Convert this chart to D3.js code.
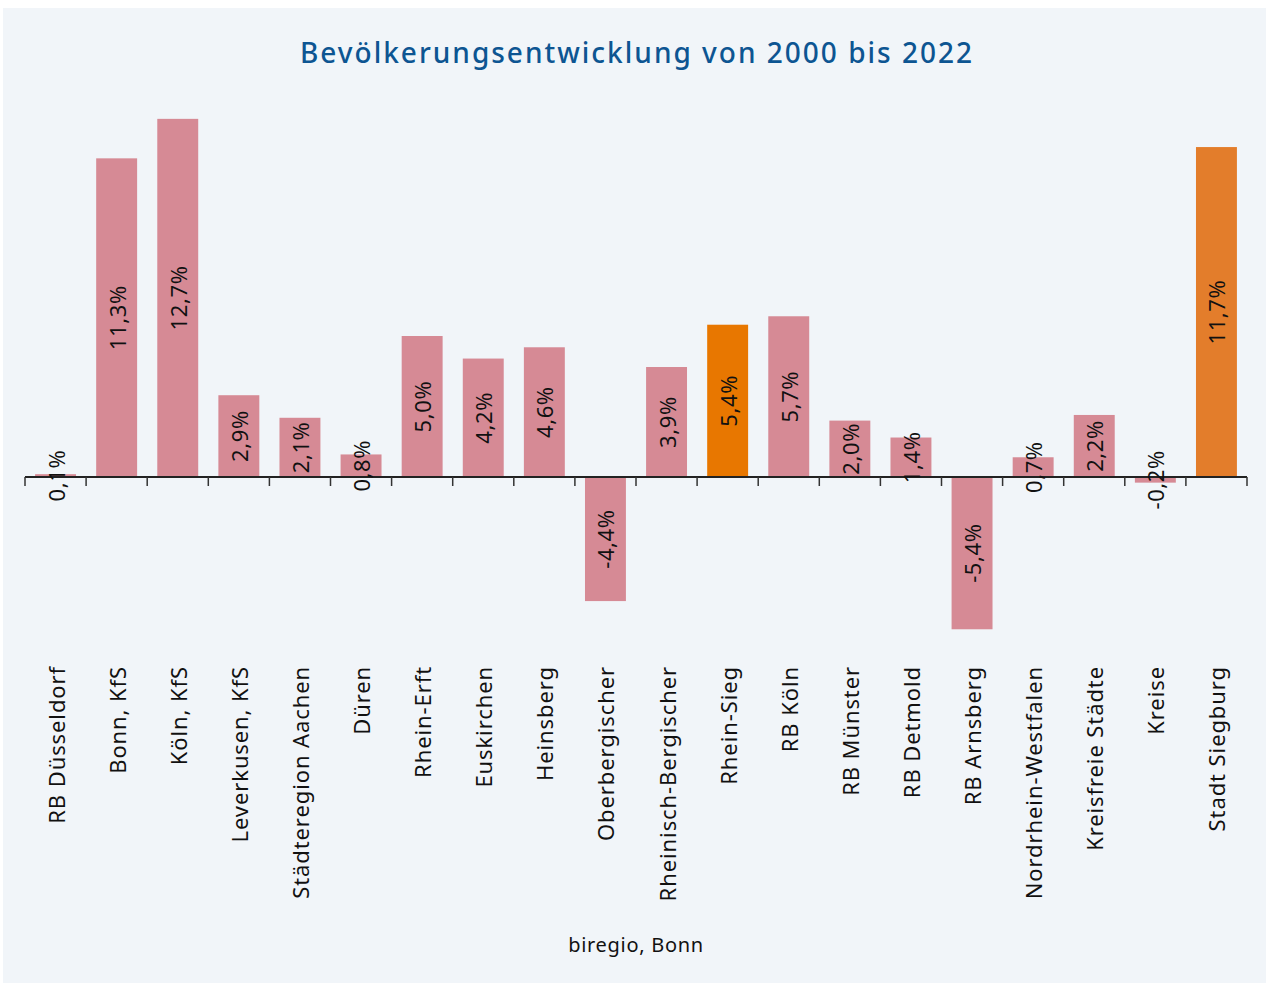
<!DOCTYPE html>
<html>
<head>
<meta charset="utf-8">
<script src="https://cdn.jsdelivr.net/npm/d3@7"></script>
<style>
  html, body { margin: 0; padding: 0; background: #ffffff; }
  svg { display: block; }
</style>
</head>
<body>
<svg id="chart" width="1268" height="985"></svg>
<script>
// Regions and population change 2000–2022 in percent
const regions = [
  "RB Düsseldorf", "Bonn, KfS", "Köln, KfS", "Leverkusen, KfS", "Städteregion Aachen",
  "Düren", "Rhein-Erft", "Euskirchen", "Heinsberg", "Oberbergischer",
  "Rheinisch-Bergischer", "Rhein-Sieg", "RB Köln", "RB Münster", "RB Detmold",
  "RB Arnsberg", "Nordrhein-Westfalen", "Kreisfreie Städte", "Kreise", "Stadt Siegburg"
];
const changePct = [
  0.1, 11.3, 12.7, 2.9, 2.1,
  0.8, 5.0, 4.2, 4.6, -4.4,
  3.9, 5.4, 5.7, 2.0, 1.4,
  -5.4, 0.7, 2.2, -0.2, 11.7
];
const highlightRegions = ["Rhein-Sieg", "Stadt Siegburg"];
const highlightColors = ["#e87700", "#e37d2b"];
const titleText = "Bevölkerungsentwicklung von 2000 bis 2022";
const sourceText = "biregio, Bonn";

const data = regions.map((r, i) => ({ region: r, value: changePct[i] }));

const svg = d3.select("#chart");
const font = "'Noto Sans', 'Open Sans', sans-serif";

// panel background
svg.append("rect")
  .attr("x", 3).attr("y", 8)
  .attr("width", 1263).attr("height", 975)
  .attr("fill", "#f1f5f9");

// title
svg.append("text")
  .attr("x", 637).attr("y", 63)
  .attr("text-anchor", "middle")
  .attr("font-family", font)
  .attr("font-size", 28)
  .attr("font-weight", 500)
  .attr("letter-spacing", 2)
  .attr("fill", "#0d5592")
  .text(titleText);

const x = d3.scaleBand()
  .domain(regions)
  .range([25, 1247])
  .paddingInner(0.33)
  .paddingOuter(0.165);

const pxPerPct = 28.2;
const zeroY = 477;
const y = d3.scaleLinear()
  .domain([-6, 13])
  .range([zeroY + 6 * pxPerPct, zeroY - 13 * pxPerPct]);

const colorOf = d => {
  const k = highlightRegions.indexOf(d.region);
  return k >= 0 ? highlightColors[k] : "#d68a95";
};

// bars
svg.append("g").selectAll("rect")
  .data(data)
  .join("rect")
  .attr("x", d => x(d.region))
  .attr("width", x.bandwidth())
  .attr("y", d => y(Math.max(0, d.value)))
  .attr("height", d => Math.abs(y(d.value) - y(0)))
  .attr("fill", colorOf);

// zero axis with ticks at band edges
const axisG = svg.append("g");
axisG.append("line")
  .attr("x1", 25).attr("x2", 1247)
  .attr("y1", y(0)).attr("y2", y(0))
  .attr("stroke", "#222").attr("stroke-width", 2);
const tickPos = regions.map(r => x(r) - x.step() * x.paddingInner() / 2);
tickPos.push(1247);
tickPos[0] = 25;
axisG.selectAll(".tick")
  .data(tickPos)
  .join("line")
  .attr("x1", d => d).attr("x2", d => d)
  .attr("y1", y(0)).attr("y2", y(0) + 9)
  .attr("stroke", "#333").attr("stroke-width", 1.5);

// value labels, rotated, centred on each bar
const fmt = v => (v < 0 ? "-" : "") + Math.abs(v).toFixed(1).replace(".", ",") + "%";
svg.append("g").selectAll("text")
  .data(data)
  .join("text")
  .attr("transform", d => {
    const cx = x(d.region) + x.bandwidth() / 2;
    const cy = (y(d.value) + y(0)) / 2;
    return `translate(${cx},${cy}) rotate(-90)`;
  })
  .attr("text-anchor", "middle")
  .attr("dominant-baseline", "central")
  .attr("font-family", font)
  .attr("font-size", 22)
  .attr("letter-spacing", 0.6)
  .attr("fill", "#111")
  .text(d => fmt(d.value));

// category labels
svg.append("g").selectAll("text")
  .data(regions)
  .join("text")
  .attr("transform", r => `translate(${x(r) + x.bandwidth() / 2},666) rotate(-90)`)
  .attr("text-anchor", "end")
  .attr("dominant-baseline", "central")
  .attr("font-family", font)
  .attr("font-size", 22)
  .attr("letter-spacing", 0.9)
  .attr("fill", "#111")
  .text(r => r);

// source
svg.append("text")
  .attr("x", 636).attr("y", 952)
  .attr("text-anchor", "middle")
  .attr("font-family", font)
  .attr("font-size", 20)
  .attr("letter-spacing", 0.7)
  .attr("fill", "#111")
  .text(sourceText);
</script>
</body>
</html>
